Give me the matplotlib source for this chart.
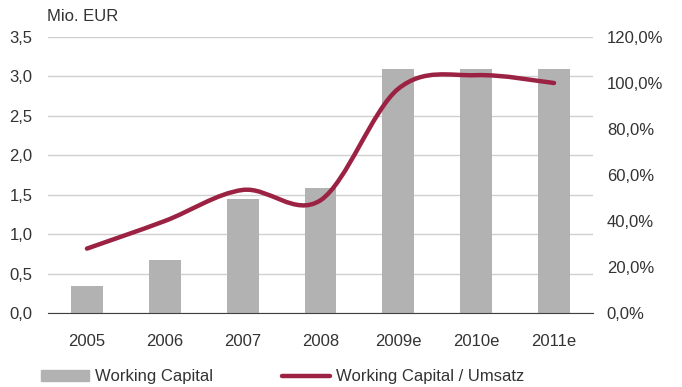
import numpy as np
import matplotlib.pyplot as plt
from matplotlib.path import Path
from matplotlib.patches import PathPatch
from matplotlib.lines import Line2D
from matplotlib.patches import Patch
from matplotlib.ticker import FuncFormatter

plt.rcParams['font.family'] = ['Liberation Sans', 'DejaVu Sans']

years = ['2005', '2006', '2007', '2008', '2009e', '2010e', '2011e']
working_capital = [0.34, 0.67, 1.45, 1.58, 3.1, 3.1, 3.1]        # Mio. EUR
wc_umsatz = [28.0, 40.0, 53.5, 49.0, 97.5, 103.4, 100.0]         # in %

bar_color = '#b2b2b2'
line_color = '#9b2242'
text_color = '#333333'


def smooth_path(xs, ys, tension=1/6):
    # Bezier-Kurve durch alle Punkte (Catmull-Rom Kontrollpunkte)
    pts = list(zip(xs, ys))
    verts = [pts[0]]
    codes = [Path.MOVETO]
    n = len(pts)
    for i in range(n - 1):
        p0 = pts[i - 1] if i > 0 else pts[i]
        p1 = pts[i]
        p2 = pts[i + 1]
        p3 = pts[i + 2] if i + 2 < n else pts[i + 1]
        c1 = (p1[0] + (p2[0] - p0[0]) * tension, p1[1] + (p2[1] - p0[1]) * tension)
        c2 = (p2[0] - (p3[0] - p1[0]) * tension, p2[1] - (p3[1] - p1[1]) * tension)
        verts += [c1, c2, p2]
        codes += [Path.CURVE4] * 3
    return Path(verts, codes)


fig = plt.figure(figsize=(6.82, 3.87), dpi=100)
ax = fig.add_axes([0.0704, 0.1912, 0.799, 0.7132])
x = np.arange(len(years))

ax.bar(x, working_capital, width=0.41, color=bar_color, zorder=2)
ax.set_xlim(-0.5, len(years) - 0.5)
ax.set_ylim(0, 3.5)
ax.set_yticks(np.arange(0, 3.51, 0.5))
ax.yaxis.set_major_formatter(FuncFormatter(lambda v, p: f'{v:.1f}'.replace('.', ',')))
ax.grid(axis='y', color='#d0d0d0', linewidth=1, zorder=0)
ax.set_axisbelow(True)
ax.set_xticks(x)
ax.set_xticklabels(years)
ax.tick_params(axis='both', length=0, labelsize=12, colors=text_color)
ax.tick_params(axis='x', pad=15)
ax.tick_params(axis='y', pad=11)
for s in ['top', 'right', 'left']:
    ax.spines[s].set_visible(False)
ax.spines['bottom'].set_color('#404040')
ax.spines['bottom'].set_zorder(3)

ax2 = ax.twinx()
ax2.set_ylim(0, 120)
ax2.set_yticks(np.arange(0, 121, 20))
ax2.yaxis.set_major_formatter(FuncFormatter(lambda v, p: f'{v:.1f}%'.replace('.', ',')))
ax2.tick_params(axis='y', length=0, labelsize=12, colors=text_color, pad=10)
for s in ax2.spines.values():
    s.set_visible(False)
ax2.add_patch(PathPatch(smooth_path(x, wc_umsatz), facecolor='none',
                        edgecolor=line_color, linewidth=3.2, capstyle='round', zorder=4))

fig.text(0.069, 0.958, 'Mio. EUR', fontsize=12, color=text_color, va='center')

handles = [Patch(color=bar_color, label='Working Capital'),
           Line2D([], [], color=line_color, linewidth=3.2, solid_capstyle='round',
                  label='Working Capital / Umsatz')]
fig.legend(handles=handles, loc='center left', bbox_to_anchor=(0.05, 0.026), ncol=2,
           frameon=False, fontsize=12, handlelength=2.9, handleheight=0.7,
           handletextpad=0.35, columnspacing=4.15, labelcolor=text_color, borderaxespad=0)

fig.savefig('out.png', dpi=100)
